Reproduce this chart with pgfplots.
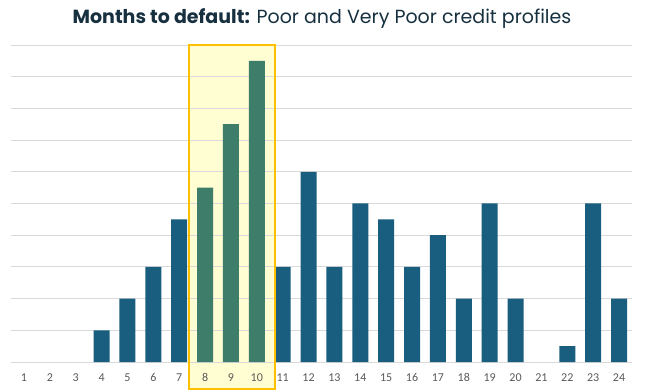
\documentclass[border=0pt]{standalone}
\usepackage{pgfplots}
\pgfplotsset{compat=1.18}
\usepackage{fontspec}
\setmainfont{Poppins}
\newfontfamily\tickfont{Carlito}
\definecolor{barblue}{HTML}{1A5E7F}
\definecolor{bargreen}{HTML}{3E7D6A}
\definecolor{hlfill}{HTML}{FFFDD2}
\definecolor{hlborder}{HTML}{FFC000}
\definecolor{gridgray}{HTML}{D9D9D9}
\definecolor{ticktext}{HTML}{595959}
\definecolor{titlecol}{HTML}{16303F}
\begin{document}
\begin{tikzpicture}
\begin{axis}[
  set layers,
  at={(0,0)}, anchor=south west,
  scale only axis,
  width=621bp, height=317bp,
  xmin=0.5, xmax=24.5,
  ymin=0, ymax=10,
  clip=false,
  axis line style={draw=none},
  major tick length=0pt,
  xtick={1,...,24},
  ytick={0,...,10},
  yticklabels={},
  ymajorgrids,
  grid style={gridgray, line width=0.9bp},
  /pgf/number format/assume math mode=true,
  xticklabel style={font=\tickfont\fontsize{12bp}{14bp}\selectfont, text=ticktext, anchor=base, yshift=-19bp},
  bar width=16bp,
]
\begin{pgfonlayer}{axis background}
\fill[hlfill] (axis cs:7.38,-0.85) rectangle (axis cs:10.70,10);
\end{pgfonlayer}
% months 1, 2, 3 and 21 have value 0 (no bar drawn)
\addplot[ybar, bar shift=0pt, fill=barblue, draw=none] coordinates {
(4,1) (5,2) (6,3) (7,4.5)
(11,3) (12,6) (13,3) (14,5) (15,4.5) (16,3) (17,4) (18,2) (19,5) (20,2)
(22,0.5) (23,5) (24,2)};
\addplot[ybar, bar shift=0pt, fill=bargreen, draw=none] coordinates {
(8,5.5) (9,7.5) (10,9.5)};
\begin{pgfonlayer}{axis foreground}
\draw[hlborder, line width=2bp] (axis cs:7.38,-0.85) rectangle (axis cs:10.70,10);
\end{pgfonlayer}
\end{axis}
\node[anchor=base, text=titlecol, font=\fontsize{19bp}{22bp}\selectfont] at (311bp,338bp) {\textbf{Months to default:} Poor and Very Poor credit profiles};
\pgfresetboundingbox
\useasboundingbox (-11bp,-29bp) rectangle (635bp,362bp);
\end{tikzpicture}
\end{document}
